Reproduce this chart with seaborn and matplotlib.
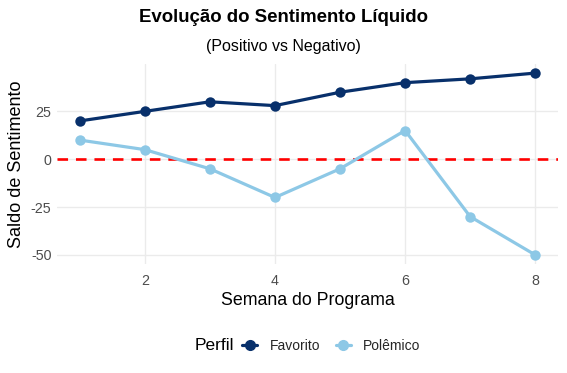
import pandas as pd
import matplotlib.pyplot as plt
import seaborn as sns

# Data
semanas = [1, 2, 3, 4, 5, 6, 7, 8]
favorito = [20, 25, 30, 28, 35, 40, 42, 45]
polemico = [10, 5, -5, -20, -5, 15, -30, -50]

df = pd.DataFrame({
    "Semana": semanas * 2,
    "Saldo": favorito + polemico,
    "Perfil": ["Favorito"] * len(semanas) + ["Polêmico"] * len(semanas),
})

sns.set_theme(style="whitegrid")
plt.rcParams["font.family"] = ["Liberation Sans", "DejaVu Sans"]
plt.rcParams["axes.unicode_minus"] = False

fig = plt.figure(figsize=(5.67, 3.73), dpi=100)
ax = fig.add_axes([57 / 567, 1 - 264 / 373, 501 / 567, 200 / 373])

palette = {"Favorito": "#08306B", "Polêmico": "#8DC8E6"}
ax.axhline(0, color="red", linestyle=(0, (4, 3)), linewidth=1.9, zorder=1)
sns.lineplot(data=df, x="Semana", y="Saldo", hue="Perfil", palette=palette,
             marker="o", markersize=7.5, markeredgewidth=0, linewidth=2.3,
             ax=ax, legend=False, zorder=3)

ax.set_xlim(0.65, 8.35)
ax.set_ylim(-54.75, 49.75)
ax.set_xticks([2, 4, 6, 8])
ax.set_yticks([-50, -25, 0, 25])
ax.set_facecolor("white")
for s in ax.spines.values():
    s.set_visible(False)
ax.grid(True, color="#EBEBEB", linewidth=1.0)
ax.tick_params(axis="y", length=0, labelsize=10.3, labelcolor="#4D4D4D", pad=4)
ax.tick_params(axis="x", length=0, labelsize=10.3, labelcolor="#4D4D4D", pad=7)

ax.set_xlabel("Semana do Programa", fontsize=12.8, color="black", labelpad=3)
ax.set_ylabel("Saldo de Sentimento", fontsize=13, color="black", labelpad=4)

fig.text(0.5, 1 - 18 / 373, "Evolução do Sentimento Líquido", ha="center", va="center",
         fontsize=13.4, fontweight="bold", color="black")
fig.text(0.5, 1 - 46 / 373, "(Positivo vs Negativo)", ha="center", va="center",
         fontsize=11.5, color="black")

# Legend at bottom
fig.text(195 / 567, 1 - 346 / 373, "Perfil", ha="left", va="center", fontsize=12.5, color="black")
handles = [plt.Line2D([], [], color=palette[k], marker="o", markersize=7, linewidth=2.3)
           for k in ["Favorito", "Polêmico"]]
fig.legend(handles, ["Favorito", "Polêmico"], loc="center left",
           bbox_to_anchor=(242 / 567, 1 - 346 / 373), ncol=2, frameon=False,
           fontsize=10, handlelength=1.1, handletextpad=0.9, columnspacing=1.1,
           borderaxespad=0, borderpad=0)

fig.savefig("out.png", dpi=100)
